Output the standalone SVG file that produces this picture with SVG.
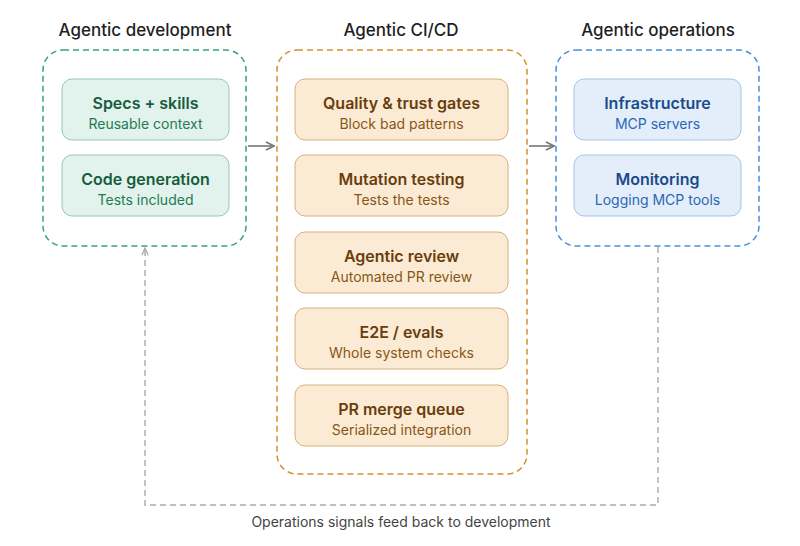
<svg xmlns="http://www.w3.org/2000/svg" width="800" height="546" viewBox="0 0 800 546">
<defs>
<marker id="arr" viewBox="0 0 10 10" refX="9" refY="5" markerWidth="10" markerHeight="10" markerUnits="userSpaceOnUse" orient="auto">
<path d="M1,1 L9,5 L1,9" fill="none" stroke="#777" stroke-width="1.6"/>
</marker>
<marker id="arrf" viewBox="0 0 10 10" refX="9" refY="5" markerWidth="9" markerHeight="9" markerUnits="userSpaceOnUse" orient="auto">
<path d="M1,1.5 L9,5 L1,8.5" fill="none" stroke="#aaa" stroke-width="1.4"/>
</marker>
</defs>
<style>
text{font-family:Inter,"Liberation Sans",sans-serif;text-anchor:middle}
.title{font-size:17px;font-weight:500;fill:#1f1f1f}
.nt{font-size:16px;font-weight:600}
.ns{font-size:14px;font-weight:400}
.cont{fill:none;stroke-width:1.5;stroke-dasharray:6 4}
.g .box{fill:#e1f3ec;stroke:#93cbb0;stroke-width:1}
.g .nt{fill:#175c3e}.g .ns{fill:#267a55}
.o .box{fill:#fbebd4;stroke:#d8b07b;stroke-width:1}
.o .nt{fill:#6a3d0c}.o .ns{fill:#875716}
.b .box{fill:#e3eefa;stroke:#a3c4ea;stroke-width:1}
.b .nt{fill:#1b4b8c}.b .ns{fill:#2c66b5}
.conn{fill:none;stroke:#777;stroke-width:1.6}
.fb{fill:none;stroke:#aaa;stroke-width:1.4;stroke-dasharray:6 4}
</style>

<g id="dev">
<text class="title" x="145" y="36">Agentic development</text>
<rect class="cont" x="43" y="50" width="203" height="196" rx="20" stroke="#35a574"/>
</g>
<g id="cicd">
<text class="title" x="401" y="36">Agentic CI/CD</text>
<rect class="cont" x="277" y="50" width="250" height="424" rx="20" stroke="#d4912e"/>
</g>
<g id="ops">
<text class="title" x="658" y="36">Agentic operations</text>
<rect class="cont" x="556" y="50" width="203" height="196" rx="20" stroke="#4a8fda"/>
</g>

<g id="specs" class="g"><rect class="box" x="62" y="79" width="167" height="61" rx="10"/><text class="nt" x="145.5" y="109">Specs + skills</text><text class="ns" x="145.5" y="129">Reusable context</text></g>
<g id="codegen" class="g"><rect class="box" x="62" y="155" width="167" height="61" rx="10"/><text class="nt" x="145.5" y="185">Code generation</text><text class="ns" x="145.5" y="205">Tests included</text></g>

<g id="quality" class="o"><rect class="box" x="295" y="79" width="213" height="61" rx="10"/><text class="nt" x="401.5" y="109">Quality &amp; trust gates</text><text class="ns" x="401.5" y="129">Block bad patterns</text></g>
<g id="mutation" class="o"><rect class="box" x="295" y="155" width="213" height="61" rx="10"/><text class="nt" x="401.5" y="185">Mutation testing</text><text class="ns" x="401.5" y="205">Tests the tests</text></g>
<g id="review" class="o"><rect class="box" x="295" y="232" width="213" height="61" rx="10"/><text class="nt" x="401.5" y="262">Agentic review</text><text class="ns" x="401.5" y="282">Automated PR review</text></g>
<g id="e2e" class="o"><rect class="box" x="295" y="308" width="213" height="61" rx="10"/><text class="nt" x="401.5" y="338">E2E / evals</text><text class="ns" x="401.5" y="358">Whole system checks</text></g>
<g id="merge" class="o"><rect class="box" x="295" y="385" width="213" height="61" rx="10"/><text class="nt" x="401.5" y="415">PR merge queue</text><text class="ns" x="401.5" y="435">Serialized integration</text></g>

<g id="infra" class="b"><rect class="box" x="574" y="79" width="167" height="61" rx="10"/><text class="nt" x="657.5" y="109">Infrastructure</text><text class="ns" x="657.5" y="129">MCP servers</text></g>
<g id="monitor" class="b"><rect class="box" x="574" y="155" width="167" height="61" rx="10"/><text class="nt" x="657.5" y="185">Monitoring</text><text class="ns" x="657.5" y="205">Logging MCP tools</text></g>

<g id="connectors">
<line class="conn" x1="248" y1="146" x2="274" y2="146" marker-end="url(#arr)"/>
<line class="conn" x1="529" y1="146" x2="554" y2="146" marker-end="url(#arr)"/>
<path class="fb" d="M658,247 L658,505 L145,505 L145,248" marker-end="url(#arrf)"/>
<text x="401" y="527" style="font-size:14px;fill:#444">Operations signals feed back to development</text>
</g>
</svg>
